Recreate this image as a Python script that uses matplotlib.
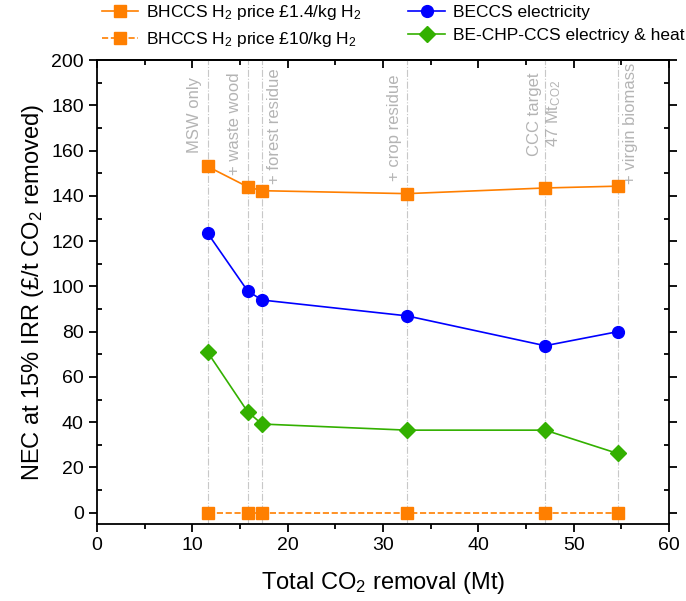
import matplotlib
matplotlib.use("Agg")
import matplotlib.pyplot as plt
from matplotlib.ticker import MultipleLocator

plt.rcParams['font.family'] = ['Liberation Sans', 'DejaVu Sans']
plt.rcParams['mathtext.fontset'] = 'custom'
plt.rcParams['mathtext.rm'] = 'Liberation Sans'
plt.rcParams['mathtext.it'] = 'Liberation Sans'

# total CO2 removal for each feedstock scenario (Mt)
removal = [11.6, 15.8, 17.3, 32.5, 47.0, 54.6]
scenarios = ["MSW only", "+ waste wood", "+ forest residue", "+ crop residue",
             "CCC target\n47 Mt$_{\\mathregular{CO2}}$", "+ virgin biomass"]

# NEC at 15% IRR (GBP/t CO2 removed)
bhccs_low = [153, 144, 142.3, 141, 143.5, 144.3]
bhccs_high = [0, 0, 0, 0, 0, 0]
beccs = [123.5, 98, 94, 87, 73.8, 80]
bechp = [71, 44.6, 39.2, 36.5, 36.5, 26.2]

ORANGE = '#ff7f00'
BLUE = '#0000ff'
GREEN = '#33b000'
GREY = '#b4b4b4'

fig = plt.figure(figsize=(6.86, 6.01), dpi=100)
ax = fig.add_axes([0.1414, 0.128, 0.834, 0.772])

# scenario guide lines and labels
label_pos = [(-0.55, 'right', 192.5), (-0.55, 'right', 194.7), (0.55, 'left', 196.5),
             (-0.55, 'right', 193.8), (0.0, 'center', 194.7), (0.55, 'left', 198.7)]
for xv, name, (dx, ha, ytop) in zip(removal, scenarios, label_pos):
    ax.axvline(xv, color='#c8c8c8', lw=0.8, ls='-.', zorder=1)
    ax.text(xv + dx, ytop, name, rotation=90, ha=ha, va='top', color=GREY,
            fontsize=12, multialignment='center', zorder=1)

ax.plot(removal, bhccs_low, color=ORANGE, marker='s', ms=9, lw=1.2,
        label="BHCCS H$_2$ price £1.4/kg H$_2$", zorder=3)
ax.plot(removal, bhccs_high, color=ORANGE, marker='s', ms=9, lw=1.2, ls='--',
        label="BHCCS H$_2$ price £10/kg H$_2$", zorder=3)
ax.plot(removal, beccs, color=BLUE, marker='o', ms=8.5, lw=1.2,
        label="BECCS electricity", zorder=3)
ax.plot(removal, bechp, color=GREEN, marker='D', ms=8.5, lw=1.2,
        label="BE-CHP-CCS electricy & heat", zorder=3)

ax.set_xlim(0, 60)
ax.set_ylim(-5, 200)
ax.xaxis.set_major_locator(MultipleLocator(10))
ax.xaxis.set_minor_locator(MultipleLocator(5))
ax.yaxis.set_major_locator(MultipleLocator(20))
ax.yaxis.set_minor_locator(MultipleLocator(10))

ax.tick_params(axis='x', which='both', direction='out', top=False, labelsize=14, width=1.3)
ax.tick_params(axis='x', which='major', length=6)
ax.tick_params(axis='x', which='minor', length=3.5)
ax.tick_params(axis='y', which='major', direction='out', length=6, width=1.3,
               left=True, right=True, labelsize=14)
ax.tick_params(axis='y', which='minor', direction='in', length=3.5, width=1.3,
               left=True, right=True)

top = ax.secondary_xaxis('top')
top.xaxis.set_major_locator(MultipleLocator(10))
top.xaxis.set_minor_locator(MultipleLocator(5))
top.tick_params(which='both', direction='in', labeltop=False, width=1.3)
top.tick_params(which='major', length=6)
top.tick_params(which='minor', length=3.5)

for sp in list(ax.spines.values()) + [top.spines['top']]:
    sp.set_linewidth(1.3)

ax.set_xlabel("Total CO$_2$ removal (Mt)", fontsize=17, labelpad=11)
ax.set_ylabel("NEC at 15% IRR (£/t CO$_2$ removed)", fontsize=17, labelpad=4)

fig.legend(loc='upper left', bbox_to_anchor=(0.133, 1.012), ncol=2, frameon=False,
           fontsize=12.5, handlelength=2.1, columnspacing=2.7, labelspacing=0.45,
           handletextpad=0.45, borderaxespad=0.2)

fig.savefig("out.png", dpi=100)
